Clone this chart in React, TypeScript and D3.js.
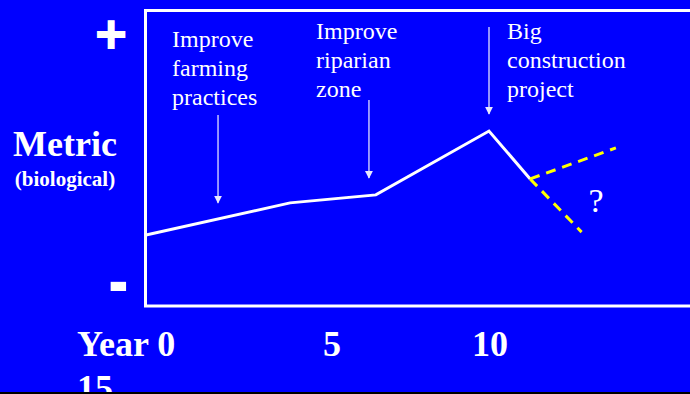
import React from "react";
import * as d3 from "d3";

const W = 690;
const H = 394;

// Observed metric trajectory (year, metric 0-100)
const lineYears = [0, 4.2, 6.7, 10, 11.2];
const lineValues = [24, 34.9, 37.6, 59.2, 43];

// Speculative futures after the construction project
const futureUpYears = [11.2, 13.7];
const futureUpValues = [43, 53.5];
const futureDownYears = [11.2, 12.7];
const futureDownValues = [43, 25];

// Annotation arrows
const arrowYears = [2.1, 6.5, 10];
const arrowTop = [64.6, 69.7, 94.4];
const arrowTip = [34.9, 43.3, 65];
const annotationLines = [
  ["Improve", "farming", "practices"],
  ["Improve", "riparian", "zone"],
  ["Big", "construction", "project"],
];
const annotationX = [172, 316, 507];
const annotationY = [47, 39, 39];

const xTickLabels = ["Year 0", "5", "10", "15"];

export default function App() {
  const x = d3.scaleLinear().domain([0, 10]).range([146, 489]);
  const y = d3.scaleLinear().domain([0, 100]).range([306, 10.5]);

  const line = d3
    .line<[number, number]>()
    .x((d) => x(d[0]))
    .y((d) => y(d[1]));

  const mainPts = lineYears.map((v, i) => [v, lineValues[i]] as [number, number]);
  const upPts = futureUpYears.map((v, i) => [v, futureUpValues[i]] as [number, number]);
  const downPts = futureDownYears.map((v, i) => [v, futureDownValues[i]] as [number, number]);

  const arrowColor = "#c4c4ff";

  return (
    <svg
      width={W}
      height={H}
      style={{ position: "absolute", left: 0, top: 0, display: "block" }}
    >
      <defs>
        <clipPath id="pageClip">
          <rect x={0} y={0} width={W} height={392} />
        </clipPath>
        <marker
          id="arrowHead"
          viewBox="0 0 10 10"
          refX={9}
          refY={5}
          markerWidth={8}
          markerHeight={8}
          markerUnits="userSpaceOnUse"
          orient="auto"
        >
          <path d="M0,0 L10,5 L0,10 Z" fill="#e8e8ff" />
        </marker>
      </defs>
      <rect x={0} y={0} width={W} height={H} fill="#000000" />
      <g clipPath="url(#pageClip)">
        <rect x={0} y={0} width={W} height={392} fill="#0000ff" />

        {/* frame */}
        <rect
          x={145.5}
          y={10.5}
          width={600}
          height={295.5}
          fill="none"
          stroke="#ffffff"
          strokeWidth={3}
        />

        {/* plus / minus */}
        <text
          x={111}
          y={48}
          textAnchor="middle"
          fontFamily="DejaVu Sans"
          fontWeight="bold"
          fontSize={42}
          fill="#ffffff"
          stroke="#ffffff"
          strokeWidth={2}
        >
          +
        </text>
        <text
          x={118.5}
          y={292}
          textAnchor="middle"
          fontFamily="DejaVu Sans"
          fontWeight="bold"
          fontSize={40}
          fill="#ffffff"
          transform="translate(118.5,292) scale(1.25,1.6) translate(-118.5,-292)"
        >
          <tspan dy={8}>-</tspan>
        </text>

        {/* y label */}
        <text
          x={65}
          y={156}
          textAnchor="middle"
          fontFamily="Liberation Serif"
          fontWeight="bold"
          fontSize={36}
          fill="#ffffff"
        >
          Metric
        </text>
        <text
          x={65}
          y={186}
          textAnchor="middle"
          fontFamily="Liberation Serif"
          fontWeight="bold"
          fontSize={21}
          fill="#ffffff"
        >
          (biological)
        </text>

        {/* annotations */}
        {annotationLines.map((lines, i) => (
          <text
            key={"ann" + i}
            x={annotationX[i]}
            y={annotationY[i]}
            fontFamily="Liberation Serif"
            fontSize={24}
            fill="#ffffff"
          >
            {lines.map((t, j) => (
              <tspan key={j} x={annotationX[i]} dy={j === 0 ? 0 : 29}>
                {t}
              </tspan>
            ))}
          </text>
        ))}

        {arrowYears.map((a, i) => (
          <line
            key={"arr" + i}
            x1={x(a)}
            x2={x(a)}
            y1={y(arrowTop[i])}
            y2={y(arrowTip[i])}
            stroke={arrowColor}
            strokeWidth={1.5}
            markerEnd="url(#arrowHead)"
          />
        ))}

        {/* data line */}
        <path
          d={line(mainPts) || ""}
          fill="none"
          stroke="#ffffff"
          strokeWidth={3}
          strokeLinejoin="miter"
        />
        <path
          d={line(upPts) || ""}
          fill="none"
          stroke="#ffff00"
          strokeWidth={3}
          strokeDasharray="10 7"
        />
        <path
          d={line(downPts) || ""}
          fill="none"
          stroke="#ffff00"
          strokeWidth={3}
          strokeDasharray="10 7"
        />
        <text
          x={596}
          y={212}
          textAnchor="middle"
          fontFamily="Liberation Serif"
          fontSize={34}
          fill="#ffffff"
        >
          ?
        </text>

        {/* x labels (wrapping as in original) */}
        <text
          x={77}
          y={356}
          fontFamily="Liberation Serif"
          fontWeight="bold"
          fontSize={36}
          fill="#ffffff"
        >
          <tspan x={77}>{xTickLabels[0]}</tspan>
          <tspan x={323}>{xTickLabels[1]}</tspan>
          <tspan x={472}>{xTickLabels[2]}</tspan>
          <tspan x={77} dy={44}>{xTickLabels[3]}</tspan>
        </text>
      </g>
    </svg>
  );
}
